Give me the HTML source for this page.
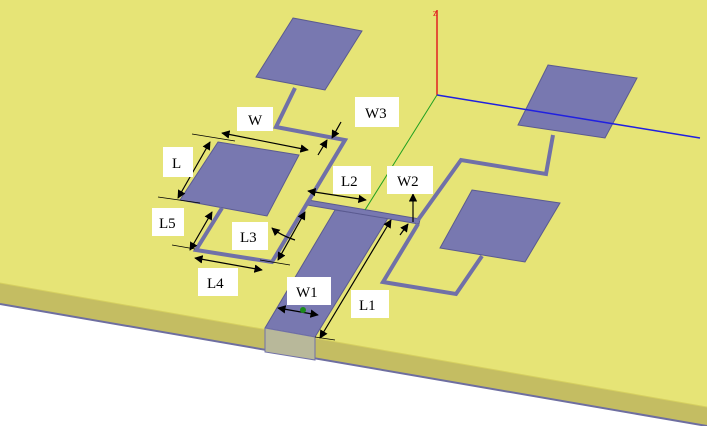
<!DOCTYPE html>
<html><head><style>body{margin:0;background:#fff}svg{display:block}text{font-family:"Liberation Serif",serif;font-size:15px;fill:#000}</style></head><body>
<svg width="707" height="426" viewBox="0 0 707 426" xmlns="http://www.w3.org/2000/svg">
<defs><marker id="a" viewBox="0 0 10 10" refX="9" refY="5" markerWidth="7" markerHeight="7" orient="auto-start-reverse"><path d="M0,0L10,5L0,10z" fill="#000"/></marker></defs>
<polygon points="0,0 707,0 707,407 0,283" fill="#e6e476"/>
<polygon points="0,283 707,407 707,426 0,304" fill="#c4bd62"/>
<polyline points="0,304 707,426" stroke="#6e6ea0" stroke-width="2" fill="none"/>
<polyline points="0,283 707,407" stroke="#d6d060" stroke-width="1" fill="none"/>
<g fill="#7878b0" stroke="#5a5a90" stroke-width="1">
<polygon points="293,18 362,31 325,90 256,77"/>
<polygon points="218,142 299,155 267,216 180,200"/>
<polygon points="548,65 637,78 605,138 518,125"/>
<polygon points="472,190 560,203 525,262 440,248"/>
<polygon points="335,210 388,218 315,337 265,328"/>
<polygon points="308,200 420,219 419,224 307,205"/>
</g>
<g fill="none" stroke="#7070a8" stroke-width="4">
<polyline points="295,88 276,127 345,140 272,262 196,250 222,208"/>
<polyline points="418,220 461,160 546,174 553,135"/>
<polyline points="418,224 383,282 456,294 482,256"/>
</g>
<polygon points="265,328 315,337 315,360 265,352" fill="#b8b89a" stroke="#7070a8"/>
<line x1="437" y1="95" x2="437" y2="10" stroke="#e02020" stroke-width="1.5"/>
<text x="433" y="16" style="font-size:10px;fill:#e02020">z</text>
<line x1="437" y1="95" x2="700" y2="138" stroke="#2020e0" stroke-width="1.5"/>
<line x1="437" y1="95" x2="365" y2="210" stroke="#20a020" stroke-width="1"/>
<g stroke="#000" stroke-width="1.2" fill="none">
<line x1="222" y1="133" x2="308" y2="150" marker-start="url(#a)" marker-end="url(#a)"/>
<line x1="210" y1="142" x2="178" y2="198" marker-start="url(#a)" marker-end="url(#a)"/>
<line x1="212" y1="212" x2="190" y2="250" marker-start="url(#a)" marker-end="url(#a)"/>
<line x1="195" y1="258" x2="262" y2="270" marker-start="url(#a)" marker-end="url(#a)"/>
<line x1="308" y1="191" x2="366" y2="200" marker-start="url(#a)" marker-end="url(#a)"/>
<line x1="305" y1="212" x2="278" y2="260" marker-start="url(#a)" marker-end="url(#a)"/>
<line x1="391" y1="220" x2="320" y2="338" marker-start="url(#a)" marker-end="url(#a)"/>
<line x1="278" y1="308" x2="318" y2="315" marker-start="url(#a)" marker-end="url(#a)"/>
<line x1="341" y1="122" x2="332" y2="138" marker-end="url(#a)"/>
<line x1="318" y1="155" x2="327" y2="140" marker-end="url(#a)"/>
<line x1="413" y1="222" x2="413" y2="194" marker-end="url(#a)"/>
<line x1="400" y1="235" x2="408" y2="224" marker-end="url(#a)"/>
<path d="M295,240 Q280,235 272,228" marker-end="url(#a)"/>
<line x1="192" y1="134" x2="235" y2="141" stroke-width="0.8"/>
<line x1="158" y1="197" x2="200" y2="203" stroke-width="0.8"/>
<line x1="172" y1="245" x2="195" y2="249" stroke-width="0.8"/>
<line x1="260" y1="260" x2="290" y2="265" stroke-width="0.8"/>
<line x1="315" y1="337" x2="335" y2="340" stroke-width="0.8"/>
</g>
<g fill="#fff">
<rect x="237" y="107" width="36" height="24"/><rect x="355" y="97" width="44" height="30"/>
<rect x="163" y="147" width="30" height="30"/><rect x="333" y="166" width="38" height="28"/>
<rect x="387" y="166" width="46" height="28"/><rect x="152" y="208" width="32" height="28"/>
<rect x="232" y="222" width="36" height="28"/><rect x="198" y="268" width="40" height="28"/>
<rect x="287" y="277" width="44" height="28"/><rect x="351" y="290" width="38" height="28"/>
</g>
<text x="248" y="125">W</text><text x="365" y="118">W3</text><text x="172" y="168">L</text>
<text x="341" y="186">L2</text><text x="397" y="186">W2</text><text x="159" y="228">L5</text>
<text x="240" y="242">L3</text><text x="207" y="288">L4</text><text x="296" y="297">W1</text>
<text x="359" y="310">L1</text>
<circle cx="303" cy="310" r="3" fill="#1a8a1a"/>
</svg>
</body></html>
